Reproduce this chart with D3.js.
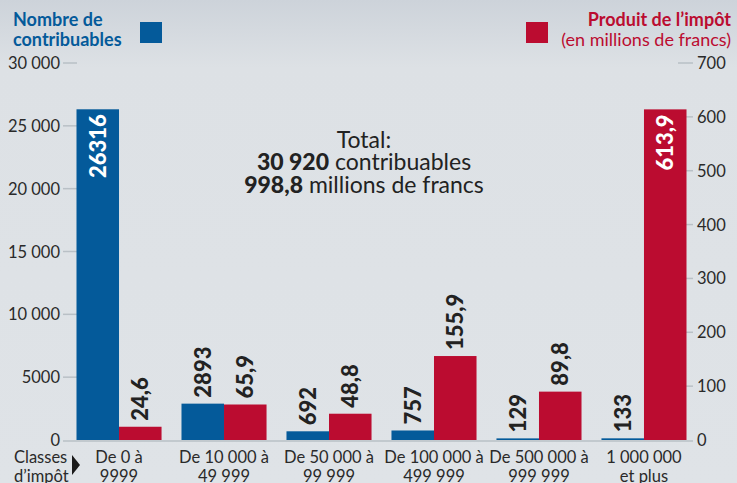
<!DOCTYPE html>
<html>
<head>
<meta charset="utf-8">
<script src="https://cdn.jsdelivr.net/npm/d3@7"></script>
<style>
  body { margin: 0; background: #dfe3e7; }
  svg { display: block; font-family: Lato, "Open Sans", sans-serif; }
  .tick-label { font-size: 16.5px; fill: #2a2a2a; }
  .cat { font-size: 16.5px; fill: #2a2a2a; }
  .val { font-size: 22px; font-weight: 900; }
</style>
</head>
<body>
<script>
// Data
var categories = [["De 0 à", "9999"], ["De 10 000 à", "49 999"], ["De 50 000 à", "99 999"],
                  ["De 100 000 à", "499 999"], ["De 500 000 à", "999 999"], ["1 000 000", "et plus"]];
var contribuables = [26316, 2893, 692, 757, 129, 133];
var contribLabels = ["26316", "2893", "692", "757", "129", "133"];
var produit = [24.6, 65.9, 48.8, 155.9, 89.8, 613.9];
var produitLabels = ["24,6", "65,9", "48,8", "155,9", "89,8", "613,9"];
var leftTicks = [0, 5000, 10000, 15000, 20000, 25000, 30000];
var leftTickLabels = ["0", "5000", "10 000", "15 000", "20 000", "25 000", "30 000"];
var rightTicks = [0, 100, 200, 300, 400, 500, 600, 700];

var blue = "#045a9a";
var red = "#bb0c30";

window.onload = function() {
  var width = 737;
  var height = 483;
  var svg = d3.select("body")
              .append("svg")
              .attr("width", width)
              .attr("height", height);

  // Background gradient
  var grad = svg.append("defs").append("linearGradient")
                .attr("id", "bg").attr("x1", 0).attr("x2", 0).attr("y1", 0).attr("y2", 1);
  grad.append("stop").attr("offset", "0%").attr("stop-color", "#cdd3da");
  grad.append("stop").attr("offset", "14%").attr("stop-color", "#dde1e5");
  grad.append("stop").attr("offset", "100%").attr("stop-color", "#dfe3e7");
  svg.append("rect").attr("width", width).attr("height", height).attr("fill", "url(#bg)");

  // Scales
  var groupScale = d3.scaleBand()
                     .domain(d3.range(categories.length))
                     .range([66, 697])
                     .paddingInner(0.19)
                     .paddingOuter(0.1);
  var barScale = d3.scaleBand()
                   .domain([0, 1])
                   .range([0, groupScale.bandwidth()]);
  var yLeft = d3.scaleLinear().domain([0, 30000]).range([440, 63]);
  var yRight = d3.scaleLinear().domain([0, 700]).range([440, 63]);

  // Left axis
  var leftAxis = svg.append("g");
  leftAxis.selectAll("line")
          .data(leftTicks.slice(1))
          .enter()
          .append("line")
          .attr("x1", 63).attr("x2", 77)
          .attr("y1", function(d) { return yLeft(d); })
          .attr("y2", function(d) { return yLeft(d); })
          .attr("stroke", "#b9c0c6").attr("stroke-width", 1.5);
  leftAxis.selectAll("text")
          .data(leftTicks)
          .enter()
          .append("text")
          .attr("class", "tick-label")
          .attr("x", 60)
          .attr("y", function(d) { return yLeft(d) + 6; })
          .attr("text-anchor", "end")
          .text(function(d, i) { return leftTickLabels[i]; });

  // Right axis
  var rightAxis = svg.append("g");
  rightAxis.selectAll("line")
           .data(rightTicks.slice(1))
           .enter()
           .append("line")
           .attr("x1", 678).attr("x2", 693)
           .attr("y1", function(d) { return yRight(d); })
           .attr("y2", function(d) { return yRight(d); })
           .attr("stroke", "#b9c0c6").attr("stroke-width", 1.5);
  rightAxis.selectAll("text")
           .data(rightTicks)
           .enter()
           .append("text")
           .attr("class", "tick-label")
           .attr("x", 697)
           .attr("y", function(d) { return yRight(d) + 6; })
           .text(function(d) { return d; });

  // Baseline
  svg.append("line")
     .attr("x1", 63).attr("x2", 693)
     .attr("y1", yLeft(0) + 1).attr("y2", yLeft(0) + 1)
     .attr("stroke", "#b9c0c6").attr("stroke-width", 1.5);

  // Bars
  var groups = svg.selectAll(".grp")
                  .data(categories)
                  .enter()
                  .append("g")
                  .attr("class", "grp")
                  .attr("transform", function(d, i) { return "translate(" + groupScale(i) + ",0)"; });

  groups.append("rect")
        .attr("x", barScale(0))
        .attr("width", barScale.bandwidth())
        .attr("y", function(d, i) { return yLeft(contribuables[i]); })
        .attr("height", function(d, i) { return yLeft(0) - yLeft(contribuables[i]); })
        .attr("fill", blue);

  groups.append("rect")
        .attr("x", barScale(1))
        .attr("width", barScale.bandwidth())
        .attr("y", function(d, i) { return yRight(produit[i]); })
        .attr("height", function(d, i) { return yRight(0) - yRight(produit[i]); })
        .attr("fill", red);

  // Value labels (rotated)
  function addLabel(g, x, top, label, inside) {
    var y = inside ? top + 5 : top - 6;
    g.append("text")
     .attr("class", "val")
     .attr("transform", "translate(" + (x + 8) + "," + y + ") rotate(-90)")
     .attr("text-anchor", inside ? "end" : "start")
     .attr("fill", inside ? "#fff" : "#222")
     .text(label);
  }
  groups.each(function(d, i) {
    var g = d3.select(this);
    var bx = barScale(0) + barScale.bandwidth() / 2;
    var rx = barScale(1) + barScale.bandwidth() / 2;
    addLabel(g, bx, yLeft(contribuables[i]), contribLabels[i], contribuables[i] > 20000);
    addLabel(g, rx, yRight(produit[i]), produitLabels[i], produit[i] > 500);
  });

  // Category labels
  groups.each(function(d) {
    var t = d3.select(this).append("text")
              .attr("class", "cat")
              .attr("text-anchor", "middle");
    t.append("tspan").attr("x", groupScale.bandwidth() / 2).attr("y", 463).text(d[0]);
    t.append("tspan").attr("x", groupScale.bandwidth() / 2).attr("y", 482).text(d[1]);
  });

  // "Classes d'impôt"
  var cls = svg.append("text").attr("class", "cat");
  cls.append("tspan").attr("x", 14).attr("y", 463).text("Classes");
  cls.append("tspan").attr("x", 14).attr("y", 482).text("d’impôt");
  svg.append("path")
     .attr("d", "M72,455 L80,465 L72,475 Z")
     .attr("fill", "#1a1a1a");

  // Legend
  var legL = svg.append("text")
                .attr("fill", blue)
                .attr("font-size", 18)
                .attr("font-weight", "bold");
  legL.append("tspan").attr("x", 13).attr("y", 26).text("Nombre de");
  legL.append("tspan").attr("x", 13).attr("y", 46).text("contribuables");
  svg.append("rect").attr("x", 140).attr("y", 22).attr("width", 22).attr("height", 21).attr("fill", blue);

  var legR = svg.append("text")
                .attr("fill", red)
                .attr("font-size", 18)
                .attr("text-anchor", "end");
  legR.append("tspan").attr("x", 731).attr("y", 26).attr("font-weight", "bold").text("Produit de l’impôt");
  legR.append("tspan").attr("x", 731).attr("y", 46).text("(en millions de francs)");
  svg.append("rect").attr("x", 526).attr("y", 22).attr("width", 22).attr("height", 21).attr("fill", red);

  // Total
  var tot = svg.append("text")
               .attr("text-anchor", "middle")
               .attr("font-size", 23)
               .attr("fill", "#222");
  tot.append("tspan").attr("x", 364).attr("y", 148).text("Total:");
  var l2 = tot.append("tspan").attr("x", 364).attr("y", 170);
  l2.append("tspan").attr("font-weight", 900).text("30 920");
  l2.append("tspan").text(" contribuables");
  var l3 = tot.append("tspan").attr("x", 364).attr("y", 193);
  l3.append("tspan").attr("font-weight", 900).text("998,8");
  l3.append("tspan").text(" millions de francs");
};
</script>
</body>
</html>
